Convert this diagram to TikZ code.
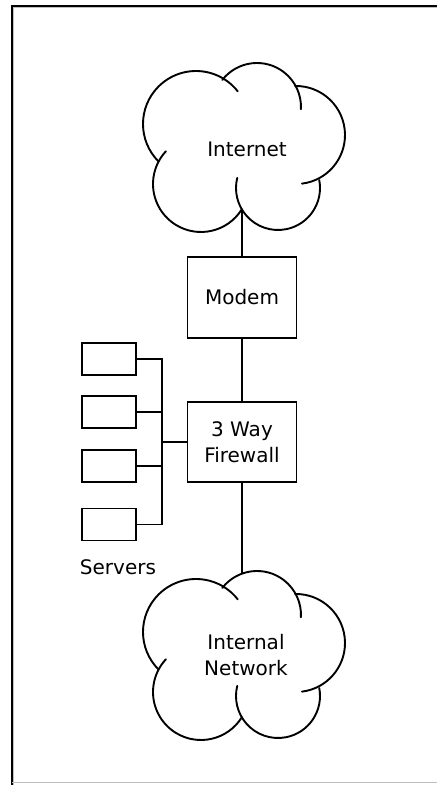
\documentclass[tikz,border=0pt]{standalone}
\usepackage{fontspec}
\setmainfont{DejaVu Sans}
\begin{document}
\begin{tikzpicture}[x=1pt,y=1pt,line width=1.9pt,
  txt/.style={font=\fontsize{20}{25.5}\selectfont},
  box/.style={draw,rectangle,inner sep=0pt,txt,align=center},
  srv/.style={draw,rectangle,inner sep=0pt,minimum width=54,minimum height=32},
  lbl/.style={inner sep=0pt,txt,align=center},
  link/.style={line width=1.9pt},
  cloudline/.style={line width=1.9pt,line cap=round},
  netcloud/.pic={
    \draw[cloudline] (196,661) ++(225:53) arc[start angle=225,end angle=38,radius=53];
    \draw[cloudline] (257,678) ++(142:44) arc[start angle=142,end angle=-3,radius=44];
    \draw[cloudline] (296,650) ++(91:49) arc[start angle=91,end angle=-83,radius=49];
    \draw[cloudline] (278,597) ++(11:42) arc[start angle=11,end angle=-194,radius=42];
    \draw[cloudline] (201,601) ++(-32:48) arc[start angle=-32,end angle=-223,radius=48];
  }]
\useasboundingbox (0,0) rectangle (437,785);
\fill[white] (0,0) rectangle (437,785);
% window frame
\draw[line width=2pt,black] (12,0) -- (12,779) -- (437,779);
\draw[line width=1pt,black!25] (13.8,0) -- (13.8,777.2) -- (437,777.2);
\draw[line width=1pt,black!25] (12,2) -- (437,2);
% clouds
\pic at (0,0) {netcloud};
\pic at (0,-508) {netcloud};
\node[lbl] (inet) at (247,636) {Internet};
\node[lbl] (lan) at (246,130) {Internal\\Network};
\coordinate (inetbot) at (242,574);
\coordinate (lantop) at (242,212);
% boxes
\node[box,minimum width=109,minimum height=81] (modem) at (242,487.5) {Modem};
\node[box,minimum width=109,minimum height=80] (fw) at (242,343) {3 Way\\Firewall};
% servers
\node[srv] (s1) at (109,426) {};
\node[srv] (s2) at (109,373) {};
\node[srv] (s3) at (109,319) {};
\node[srv] (s4) at (109,260.5) {};
\node[lbl] (srvlbl) at (118,218) {Servers};
\coordinate (bus) at (162,343);
% connectors
\draw[link] (inetbot) -- (modem.north);
\draw[link] (modem.south) -- (fw.north);
\draw[link] (fw.south) -- (lantop);
\draw[link] (s1.east) -| (bus);
\draw[link] (s2.east) -| (bus);
\draw[link] (s3.east) -| (bus);
\draw[link] (s4.east) -| (bus);
\draw[link] (bus) -- (fw.west);
\end{tikzpicture}
\end{document}
